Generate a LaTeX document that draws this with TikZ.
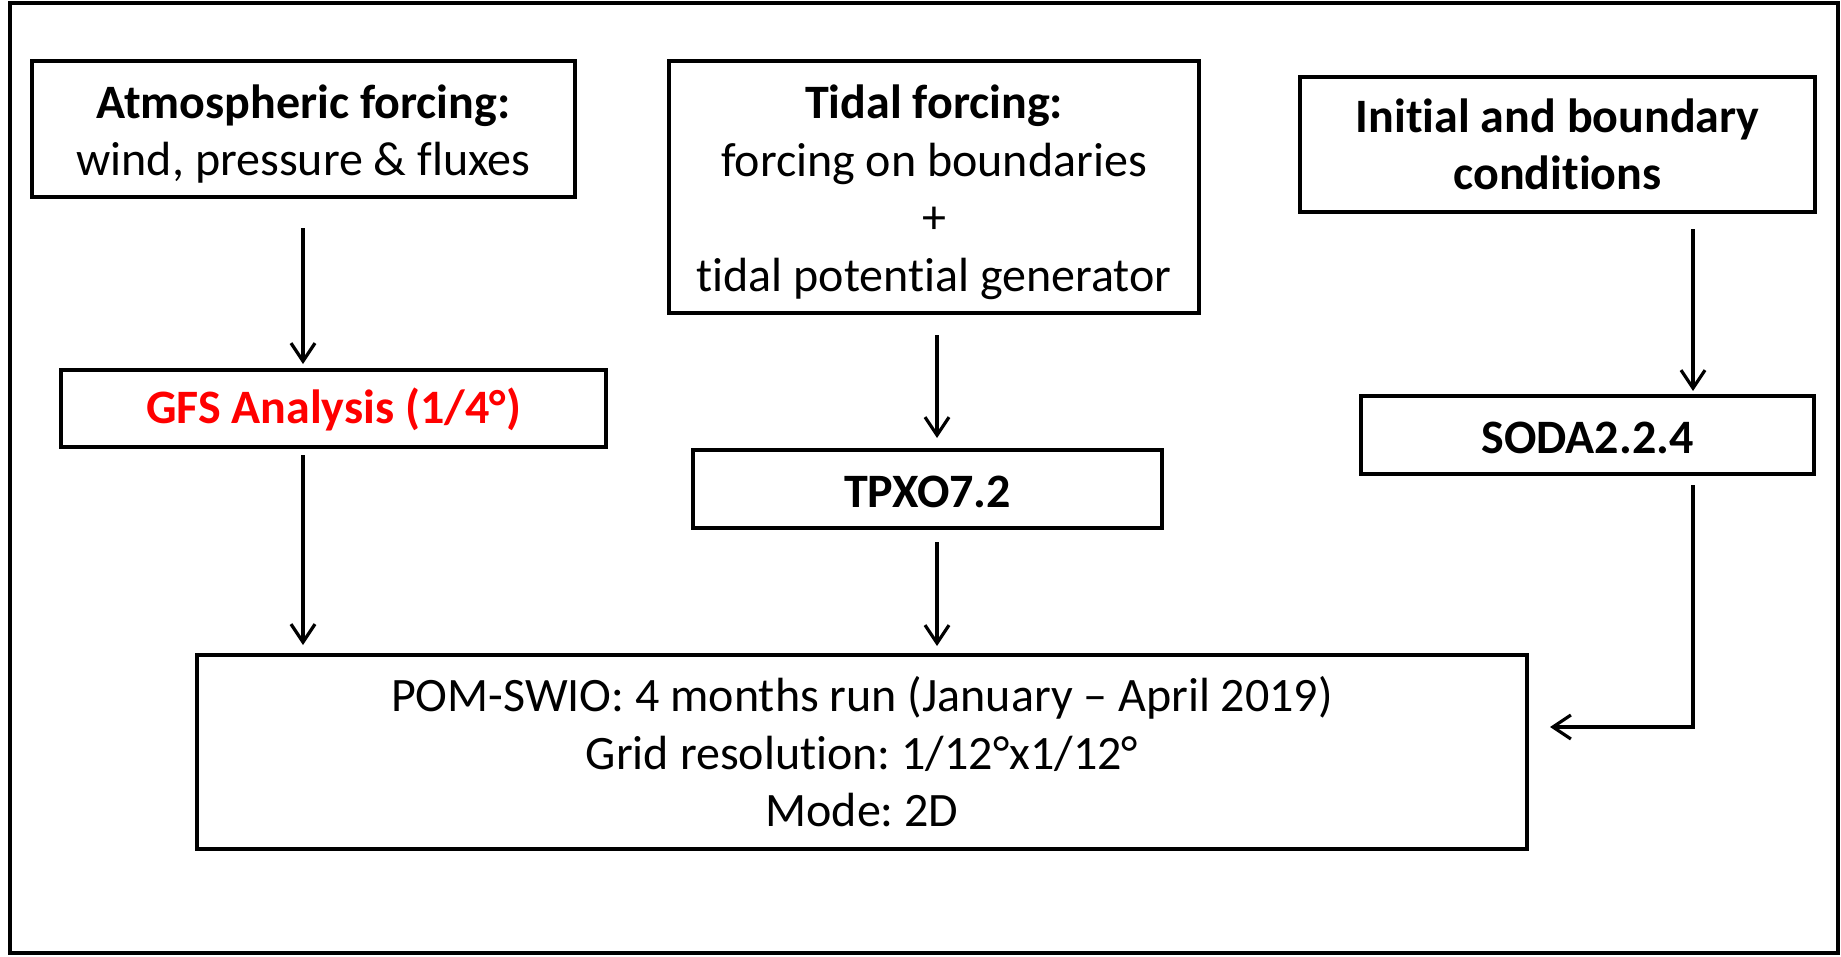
\documentclass[tikz,border=0pt]{standalone}
\usepackage{fontspec}
\setmainfont{Carlito}[Ligatures={NoCommon}]
\usetikzlibrary{arrows.meta}
\definecolor{gfsred}{RGB}{255,0,0}
\frenchspacing
\begin{document}
\begin{tikzpicture}[x=1pt,y=-1pt,
  box/.style={draw, line width=3.5pt, inner sep=0pt, outer sep=0pt, align=center,
    font=\fontsize{48}{57.5}\selectfont\frenchspacing},
  arr/.style={line width=3.2pt, -{Straight Barb[length=18pt,width=24pt]}}]
\useasboundingbox (0,0) rectangle (1841,956);
\draw[line width=3.8pt] (10,3) rectangle (1838,953);
\node[box, minimum width=543pt, minimum height=136pt] (A) at (303.5,129)
  {\rule{0pt}{44pt}\textbf{Atmospheric forcing:}\\wind, pressure \& fluxes};
\node[box, minimum width=530pt, minimum height=252pt] (B) at (934,187)
  {\rule{0pt}{44pt}\textbf{Tidal forcing:}\\forcing on boundaries\\+\\tidal potential generator};
\node[box, minimum width=515pt, minimum height=135pt] (C) at (1557.5,144.5)
  {\textbf{Initial and boundary}\\\textbf{conditions}};
\node[box, minimum width=545pt, minimum height=77pt, text=gfsred] (G) at (333.5,408.5)
  {\rule{0pt}{37pt}\textbf{GFS Analysis (1/4°)}};
\node[box, minimum width=469pt, minimum height=78pt] (T) at (927.5,489)
  {\rule{0pt}{37pt}\textbf{TPXO7.2}};
\node[box, minimum width=453pt, minimum height=78pt] (S) at (1587.5,435)
  {\rule{0pt}{37pt}\textbf{SODA2.2.4}};
\node[box, minimum width=1330pt, minimum height=194pt] (P) at (862,752)
  {POM-SWIO: 4 months run (January – April 2019)\\Grid resolution: 1/12°x1/12°\\Mode: 2D};
\coordinate (ax) at (303,0);
\coordinate (bx) at (937,0);
\coordinate (cx) at (1693,0);
\coordinate (bend) at (1693,727);
\draw[arr, shorten <=31pt, shorten >=6pt] (ax |- A.south) -- (ax |- G.north);
\draw[arr, shorten <=8pt, shorten >=10pt] (ax |- G.south) -- (ax |- P.north);
\draw[arr, shorten <=22pt, shorten >=12pt] (bx |- B.south) -- (bx |- T.north);
\draw[arr, shorten <=14pt, shorten >=9pt] (bx |- T.south) -- (bx |- P.north);
\draw[arr, shorten <=17pt, shorten >=5pt] (cx |- C.south) -- (cx |- S.north);
\draw[arr, shorten <=11pt, shorten >=23pt] (cx |- S.south) -- (bend) -- (bend -| P.east);
\end{tikzpicture}
\end{document}
